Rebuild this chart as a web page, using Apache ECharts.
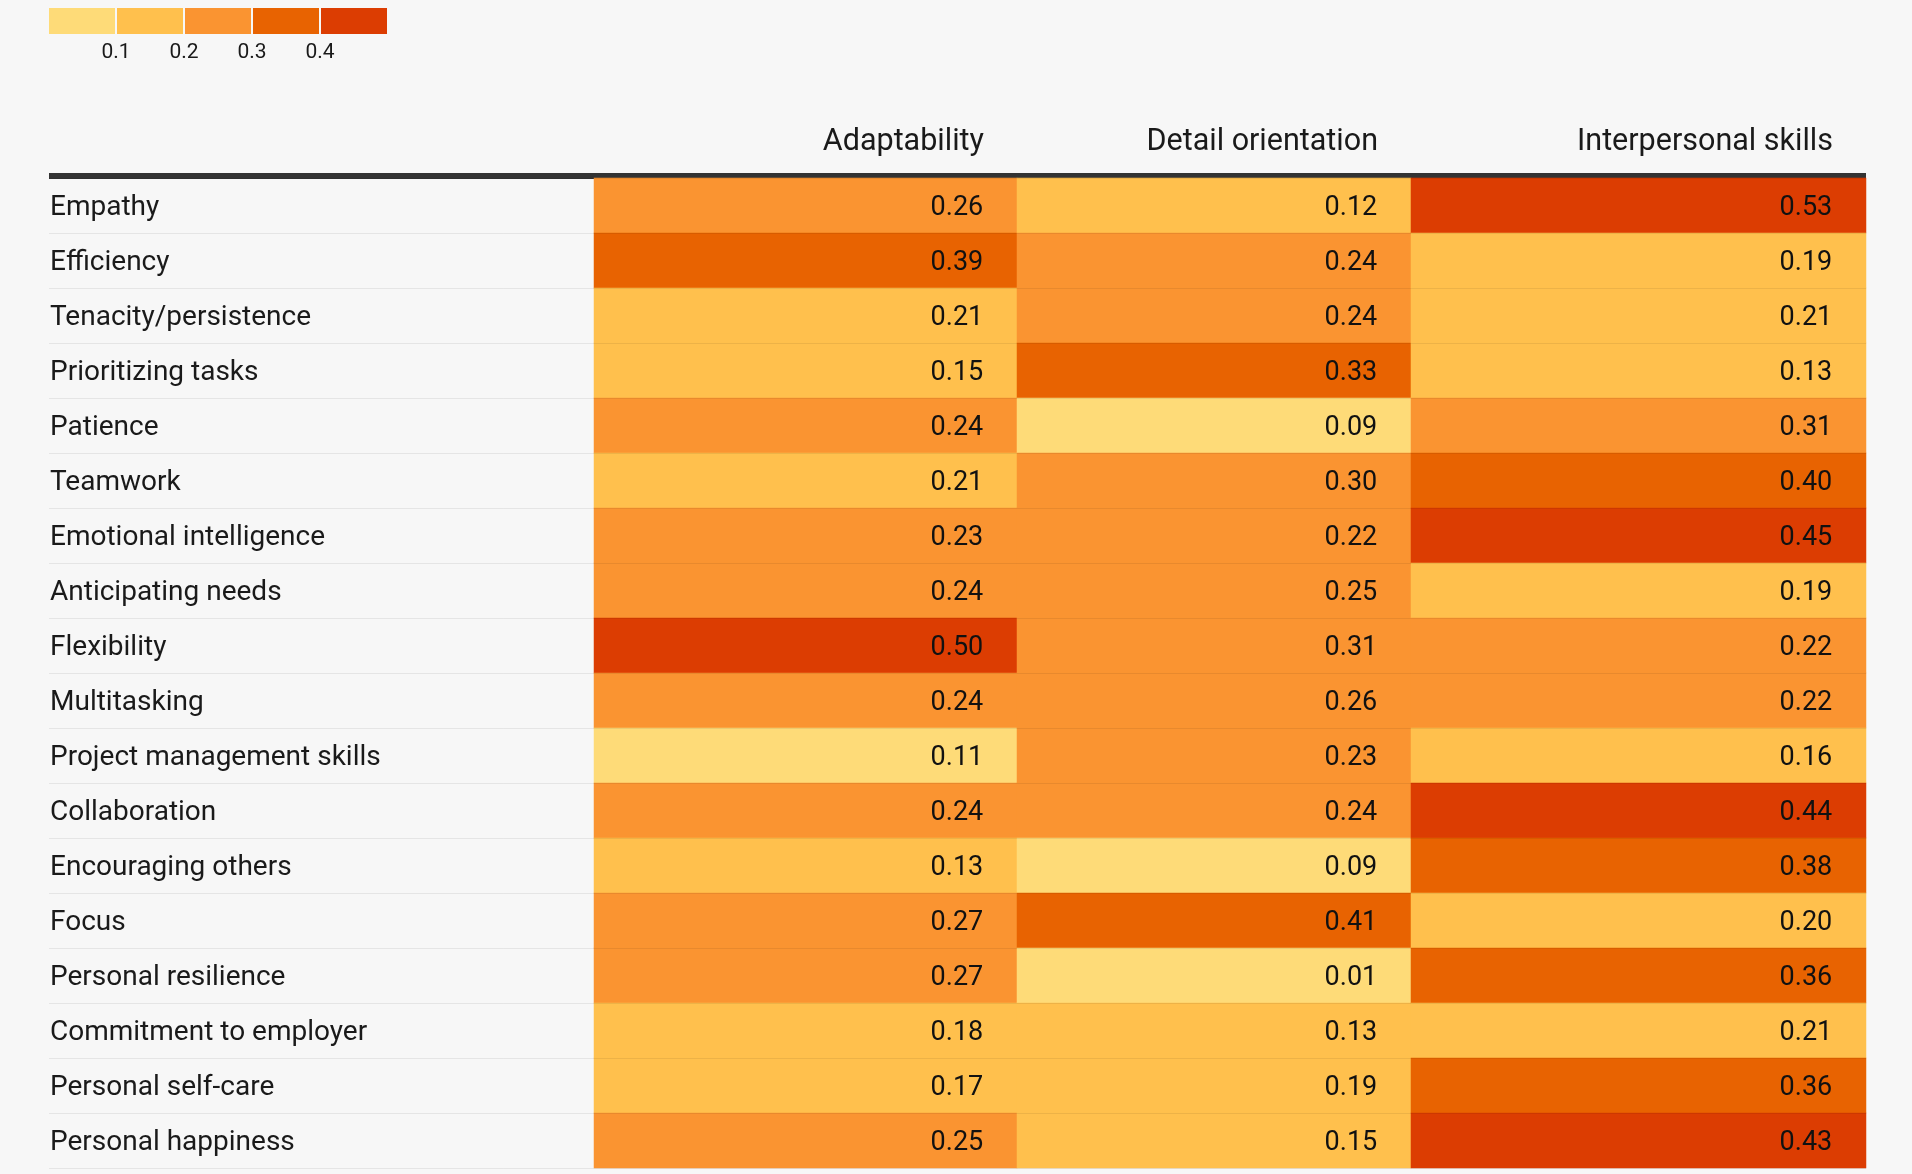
<!DOCTYPE html>
<html>
<head>
<meta charset="utf-8">
<script src="https://cdn.jsdelivr.net/npm/echarts@6/dist/echarts.min.js"></script>
<style>
  html, body { margin: 0; padding: 0; background: #f7f7f7; }
  #chart { width: 1912px; height: 1174px; }
</style>
</head>
<body>
<div id="chart"></div>
<script>
// 行：技能
var skills = ['Empathy', 'Efficiency', 'Tenacity/persistence', 'Prioritizing tasks', 'Patience',
  'Teamwork', 'Emotional intelligence', 'Anticipating needs', 'Flexibility', 'Multitasking',
  'Project management skills', 'Collaboration', 'Encouraging others', 'Focus',
  'Personal resilience', 'Commitment to employer', 'Personal self-care', 'Personal happiness'];
// 列
var traits = ['Adaptability', 'Detail orientation', 'Interpersonal skills'];
var adaptability = [0.26, 0.39, 0.21, 0.15, 0.24, 0.21, 0.23, 0.24, 0.50, 0.24, 0.11, 0.24, 0.13, 0.27, 0.27, 0.18, 0.17, 0.25];
var detailOrientation = [0.12, 0.24, 0.24, 0.33, 0.09, 0.30, 0.22, 0.25, 0.31, 0.26, 0.23, 0.24, 0.09, 0.41, 0.01, 0.13, 0.19, 0.15];
var interpersonal = [0.53, 0.19, 0.21, 0.13, 0.31, 0.40, 0.45, 0.19, 0.22, 0.22, 0.16, 0.44, 0.38, 0.20, 0.36, 0.21, 0.36, 0.43];
// 颜色分级
var colorSteps = ['#fedb78', '#ffc04d', '#fa9431', '#e86301', '#dc3d02'];
var colorBreaks = [0.115, 0.215, 0.32, 0.42];
var legendTicks = ['0.1', '0.2', '0.3', '0.4'];

var columnsData = [adaptability, detailOrientation, interpersonal];
// 每列的左右边界
var colEdges = [594, 1017, 1411, 1866];
var W = 1912, H = 1174, TOP = 178, BOTTOM = 6;
var textColor = '#1a1a1a';
var fontFamily = 'Roboto, "Noto Sans", sans-serif';

var pieces = [];
for (var i = 0; i < colorSteps.length; i++) {
  var p = { color: colorSteps[i] };
  if (i > 0) p.gte = colorBreaks[i - 1];
  if (i < colorBreaks.length) p.lt = colorBreaks[i];
  pieces.push(p);
}

var grids = [{ left: 49, right: W - 1866, top: TOP, bottom: BOTTOM }];
var xAxes = [{
  gridIndex: 0, type: 'value', position: 'top', offset: 2, min: 0, max: 1,
  axisLine: { show: true, lineStyle: { color: '#333', width: 6, cap: 'butt' } },
  axisTick: { show: false }, axisLabel: { show: false }, splitLine: { show: false }
}];
var yAxes = [{
  gridIndex: 0, type: 'category', data: skills, inverse: true, z: 10,
  axisLine: { show: false }, axisTick: { show: false },
  axisLabel: {
    inside: true, margin: 1, verticalAlign: 'top', lineHeight: 4,
    color: textColor, fontSize: 28, fontFamily: fontFamily
  },
  splitLine: { show: true, interval: 0, lineStyle: { color: 'rgba(0,0,0,0.07)', width: 1 } }
}];
var series = [];

traits.forEach(function (name, c) {
  var gi = c + 1;
  grids.push({ left: colEdges[c], right: W - colEdges[c + 1], top: TOP, bottom: BOTTOM });
  xAxes.push({
    gridIndex: gi, type: 'category', data: [name], position: 'top', offset: 36,
    axisLine: { show: false }, axisTick: { show: false }, axisLabel: { show: false },
    name: name, nameLocation: 'end', nameGap: -33,
    nameTextStyle: { align: 'right', verticalAlign: 'middle', color: textColor, fontSize: 30.5, fontFamily: fontFamily }
  });
  yAxes.push({
    gridIndex: gi, type: 'category', data: skills, inverse: true, show: false
  });
  series.push({
    name: name, type: 'heatmap', xAxisIndex: gi, yAxisIndex: gi,
    data: columnsData[c].map(function (v, r) { return [0, r, v]; }),
    label: {
      show: true, position: 'insideRight', distance: 34, offset: [0, 3],
      color: '#111', fontSize: 27, fontFamily: fontFamily,
      formatter: function (p) { return p.value[2].toFixed(2); }
    },
    itemStyle: { borderWidth: 0 },
    emphasis: { disabled: true }
  });
});

// 图例
var legendItems = [];
colorSteps.forEach(function (col, i) {
  legendItems.push({ type: 'rect', shape: { x: 49 + i * 68, y: 8, width: 66, height: 26 }, style: { fill: col } });
});
legendTicks.forEach(function (t, i) {
  legendItems.push({
    type: 'text', x: 49 + (i + 1) * 68 - 1, y: 52.5,
    style: { text: t, fill: textColor, fontSize: 21, fontFamily: fontFamily, align: 'center', verticalAlign: 'middle' }
  });
});

var myChart = echarts.init(document.getElementById('chart'));
myChart.setOption({
  backgroundColor: '#f7f7f7',
  animation: false,
  grid: grids,
  xAxis: xAxes,
  yAxis: yAxes,
  visualMap: { type: 'piecewise', show: false, dimension: 2, seriesIndex: [0, 1, 2], pieces: pieces },
  graphic: legendItems,
  series: series
});
window.addEventListener('resize', function () { myChart.resize(); });
</script>
</body>
</html>
